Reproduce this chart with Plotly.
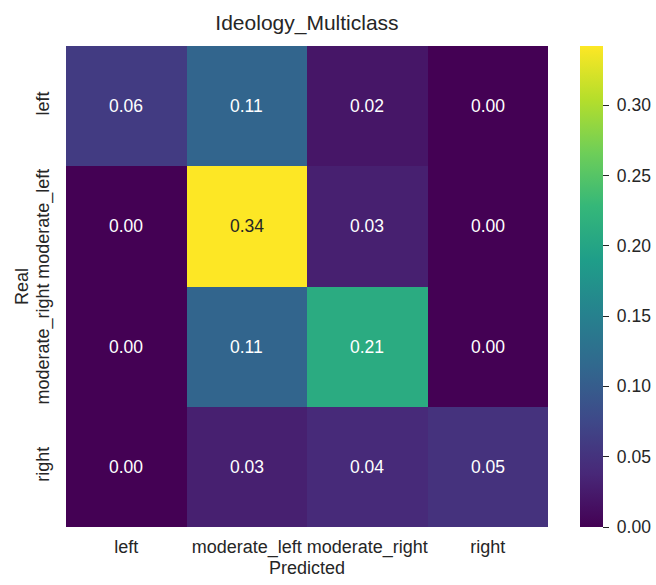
import plotly.graph_objects as go

labels = ["left", "moderate_left", "moderate_right", "right"]
# rows = Real, columns = Predicted
values = [
    [0.06, 0.11, 0.02, 0.00],
    [0.00, 0.342, 0.03, 0.00],
    [0.00, 0.11, 0.21, 0.00],
    [0.00, 0.03, 0.04, 0.05],
]
cbar_ticks = [0.00, 0.05, 0.10, 0.15, 0.20, 0.25, 0.30]

TXT = "#262626"
FONT = "Liberation Sans, Arial, sans-serif"

zmax = max(max(r) for r in values)

fig = go.Figure(go.Heatmap(
    z=values, x=labels, y=labels,
    colorscale="Viridis", zmin=0, zmax=zmax,
    showscale=True,
    colorbar=dict(
        x=1.066, xanchor="left", xpad=0, y=0.5, yanchor="middle",
        len=1, lenmode="fraction", thickness=23, ypad=0,
        outlinewidth=0,
        tickvals=cbar_ticks, ticktext=["&nbsp;" + f"{t:.2f}" for t in cbar_ticks],
        ticks="outside", ticklen=6, tickwidth=1.2, tickcolor=TXT,
        tickfont=dict(family=FONT, size=17.5, color=TXT),
    ),
    hoverinfo="skip",
))

ann = []
for i, r in enumerate(values):
    for j, v in enumerate(r):
        color = TXT if v > 0.25 else "white"
        ann.append(dict(x=labels[j], y=labels[i], text=f"{v:.2f}", showarrow=False,
                        font=dict(family=FONT, size=17.5, color=color)))

fig.update_layout(
    width=656, height=585,
    margin=dict(l=66, r=108, t=46, b=58, autoexpand=False),
    paper_bgcolor="white", plot_bgcolor="white",
    title=dict(text="Ideology_Multiclass", x=0.5, xanchor="center", xref="paper",
               y=1 - 23/585, yanchor="middle",
               font=dict(family=FONT, size=21, color=TXT)),
    annotations=ann,
    xaxis=dict(title=dict(text="Predicted", font=dict(family=FONT, size=18, color=TXT), standoff=0),
               tickfont=dict(family=FONT, size=18, color=TXT), ticks="", showgrid=False,
               zeroline=False, showline=False, ticklabelstandoff=7),
    yaxis=dict(title=dict(text="Real", font=dict(family=FONT, size=18, color=TXT), standoff=0),
               tickfont=dict(family=FONT, size=18, color=TXT), ticks="", showgrid=False,
               zeroline=False, showline=False, autorange="reversed", tickangle=-90,
               ticklabelstandoff=12),
)

fig.write_html("out.html")
